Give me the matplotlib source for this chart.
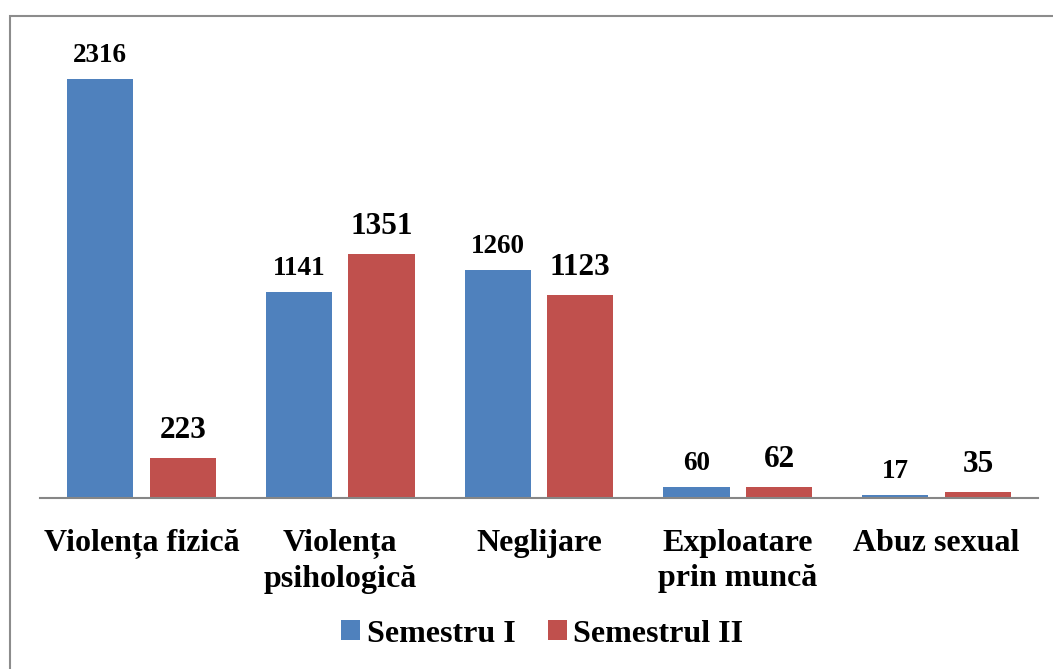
"Grouped bar chart: cases per semester by type of abuse."

import matplotlib
matplotlib.use("Agg")
import matplotlib.pyplot as plt
from matplotlib.patches import Rectangle
import numpy as np

categories = ["Violența fizică", "Violența\npsihologică", "Neglijare",
              "Exploatare\nprin muncă", "Abuz sexual"]
semestru_1 = [2316, 1141, 1260, 60, 17]
semestru_2 = [223, 1351, 1123, 62, 35]
series_names = ["Semestru I", "Semestrul II"]

BLUE = "#4F81BD"
RED = "#C0504D"

plt.rcParams["font.family"] = ["Liberation Serif", "DejaVu Serif"]
plt.rcParams["font.weight"] = "bold"

fig = plt.figure(figsize=(10.53, 6.69), dpi=100)
ax = fig.add_axes([40 / 1053, 171 / 669, 998 / 1053, 468 / 669])

x = np.arange(len(categories))
width = 0.333
offset = 0.208

bars1 = ax.bar(x - offset, semestru_1, width, color=BLUE, label=series_names[0])
bars2 = ax.bar(x + offset, semestru_2, width, color=RED, label=series_names[1])

for bar, val in zip(bars1, semestru_1):
    ax.annotate(str(val), (bar.get_x() + bar.get_width() / 2, val),
                xytext=(0, 12), textcoords="offset points",
                ha="center", va="baseline", fontsize=19.5, fontweight="bold")
for bar, val in zip(bars2, semestru_2):
    ax.annotate(str(val), (bar.get_x() + bar.get_width() / 2, val),
                xytext=(0, 14.4), textcoords="offset points",
                ha="center", va="baseline", fontsize=22.5, fontweight="bold")

ax.set_xlim(-0.51, 4.51)
ax.set_ylim(0, 2587)
ax.set_xticks(x)
ax.set_xticklabels(categories, fontsize=23, fontweight="bold", linespacing=1.28)
ax.tick_params(axis="x", length=0, pad=22)
ax.set_yticks([])
for side in ["top", "right", "left"]:
    ax.spines[side].set_visible(False)
ax.spines["bottom"].set_color("#868686")
ax.spines["bottom"].set_linewidth(1.5)

fig.legend(handles=[bars1, bars2], labels=series_names, loc="center",
           bbox_to_anchor=(0.515, 1 - 634 / 669), ncol=2, frameon=False,
           prop={"size": 23, "weight": "bold"},
           handlelength=0.6, handleheight=0.6, handletextpad=0.2,
           columnspacing=1.0)

frame = Rectangle((10 / 1053, -0.1), 1.2, 1.1 - 16 / 669,
                  transform=fig.transFigure, fill=False,
                  edgecolor="#8C8C8C", linewidth=1.5, clip_on=False)
fig.add_artist(frame)

fig.savefig("out.png", dpi=100)
